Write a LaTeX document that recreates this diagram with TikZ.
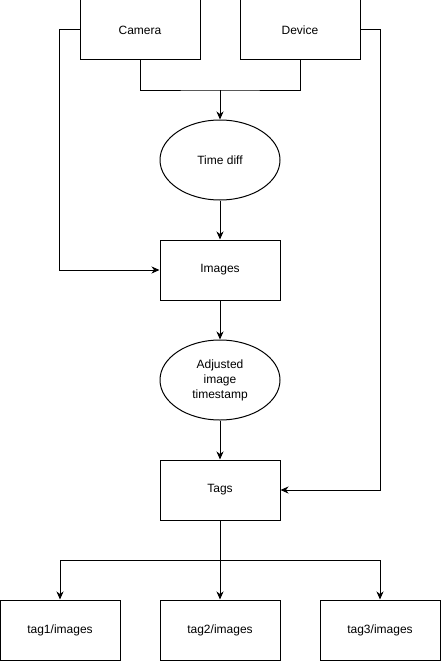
\documentclass[tikz,border=0pt]{standalone}
\usepackage{fontspec}
\setmainfont{Liberation Sans}
\usetikzlibrary{shapes.geometric,arrows.meta}
\begin{document}
\begin{tikzpicture}[x=1pt,y=-1pt,
  box/.style={draw,line width=1pt,minimum width=120pt,minimum height=60pt,inner sep=0pt,font=\fontsize{12}{14}\selectfont,align=center},
  oval/.style={draw,ellipse,line width=1pt,minimum width=120pt,minimum height=80pt,inner sep=0pt,font=\fontsize{12}{15}\selectfont,align=center},
  conn/.style={line width=1pt,-{Stealth[length=8pt,width=7pt,inset=2.5pt]}},
  seg/.style={line width=1pt}]
\useasboundingbox (0,0) rectangle (441,661);
\node[box] (cam) at (140,30) {Camera};
\node[box] (dev) at (300,30) {Device};
\node[oval] (td) at (220,160) {Time diff};
\node[box] (img) at (220,270) {Images};
\node[oval] (adj) at (220,380) {Adjusted\\image\\timestamp};
\node[box] (tags) at (220,490) {Tags};
\node[box] (t1) at (60,630) {tag1/images};
\node[box] (t2) at (220,630) {tag2/images};
\node[box] (t3) at (380,630) {tag3/images};
\coordinate (j1) at (220,90);
\coordinate (j2) at (220,560);
\draw[seg] (cam.south) |- (j1) -| (dev.south);
\draw[conn] (j1) -- (td.north);
\draw[conn] (td.south) -- (img.north);
\draw[conn] (img.south) -- (adj.north);
\draw[conn] (adj.south) -- (tags.north);
\draw[conn] (cam.west) -- ++(-20,0) |- (img.west);
\draw[conn] (dev.east) -- ++(20,0) |- (tags.east);
\draw[seg] (tags.south) -- (j2);
\draw[conn] (j2) -| (t1.north);
\draw[conn] (j2) -- (t2.north);
\draw[conn] (j2) -| (t3.north);
\end{tikzpicture}
\end{document}
